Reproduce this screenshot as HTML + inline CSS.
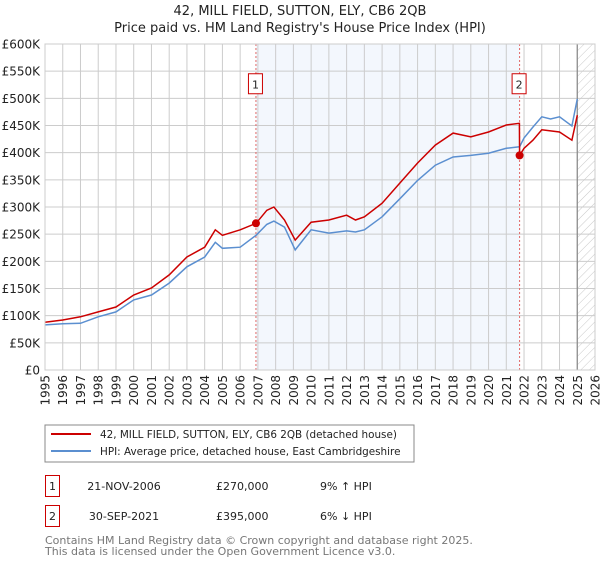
<!DOCTYPE html>
<html><head><meta charset="utf-8"><style>
body{margin:0;background:#fff;font-family:"Liberation Sans","DejaVu Sans",sans-serif;}
svg text{font-family:"DejaVu Sans","Liberation Sans",sans-serif;}
</style></head><body>
<svg id="chart" width="600" height="560" viewBox="0 0 600 560">
<defs><pattern id="hatch" width="6" height="6" patternUnits="userSpaceOnUse" patternTransform="rotate(45)"><line x1="0" y1="0" x2="0" y2="6" stroke="#bbb" stroke-width="0.8"/></pattern></defs>
<text x="300" y="15" text-anchor="middle" font-size="13" fill="#222">42, MILL FIELD, SUTTON, ELY, CB6 2QB</text>
<text x="300" y="32" text-anchor="middle" font-size="13" fill="#222">Price paid vs. HM Land Registry's House Price Index (HPI)</text>
<g id="plot"></g>
<rect x="45" y="425" width="369" height="37" fill="#fff" stroke="#888"/>
<line x1="51" y1="434" x2="91" y2="434" stroke="#cc0000" stroke-width="2"/>
<text x="100" y="438" font-size="10.4" fill="#222">42, MILL FIELD, SUTTON, ELY, CB6 2QB (detached house)</text>
<line x1="51" y1="451" x2="91" y2="451" stroke="#5b8fd0" stroke-width="2"/>
<text x="100" y="455" font-size="10.4" fill="#222">HPI: Average price, detached house, East Cambridgeshire</text>
<g font-size="11" fill="#222">
<rect x="45.5" y="475.5" width="14" height="21" fill="#fff" stroke="#cc0000"/>
<text x="52.5" y="490" text-anchor="middle">1</text>
<text x="124" y="490" text-anchor="middle">21-NOV-2006</text>
<text x="216" y="490">£270,000</text>
<text x="320" y="490">9% ↑ HPI</text>
<rect x="45.5" y="505.5" width="14" height="21" fill="#fff" stroke="#cc0000"/>
<text x="52.5" y="520" text-anchor="middle">2</text>
<text x="124" y="520" text-anchor="middle">30-SEP-2021</text>
<text x="216" y="520">£395,000</text>
<text x="320" y="520">6% ↓ HPI</text>
</g>
<text x="45" y="544" font-size="11" fill="#777">Contains HM Land Registry data © Crown copyright and database right 2025.</text>
<text x="45" y="555" font-size="11" fill="#777">This data is licensed under the Open Government Licence v3.0.</text>
</svg>
<script>
const dates=[1995,1996,1997,1998,1999,2000,2001,2002,2003,2004,2004.6,2005,2006,2006.9,2007.5,2007.9,2008.5,2009.1,2010,2011,2012,2012.5,2013,2014,2015,2016,2017,2018,2019,2020,2021,2021.74,2021.75,2022,2022.5,2023,2023.5,2024,2024.7,2025];
const hpiValues=[83,85,86,98,107,129,138,160,190,208,235,224,226,248,268,274,263,221,258,252,256,254,258,282,315,349,377,392,395,399,408,411,411,427,447,466,462,466,449,499];
const priceValues=[88,92,98,107,116,138,151,175,208,226,258,248,258,270,294,300,276,239,272,276,285,276,282,307,344,381,414,436,429,438,451,454,395,408,423,442,440,438,423,469];
const yTicks=[0,50,100,150,200,250,300,350,400,450,500,550,600];
const yLabels=["£0","£50K","£100K","£150K","£200K","£250K","£300K","£350K","£400K","£450K","£500K","£550K","£600K"];
const xYears=[1995,1996,1997,1998,1999,2000,2001,2002,2003,2004,2005,2006,2007,2008,2009,2010,2011,2012,2013,2014,2015,2016,2017,2018,2019,2020,2021,2022,2023,2024,2025,2026];
const sales=[{id:"1",t:2006.89,v:270},{id:"2",t:2021.75,v:395}];
const X0=45,X1=595,Y0=370,Y1=44;
const x=t=>X0+(t-1995)/(2026-1995)*(X1-X0);
const y=v=>Y0-v/600*(Y0-Y1);
const NS="http://www.w3.org/2000/svg";
const g=document.getElementById('plot');
function mk(tag,a){const e=document.createElementNS(NS,tag);for(const k in a)e.setAttribute(k,a[k]);g.appendChild(e);return e;}
let e;
e=mk('rect',{x:x(sales[0].t),y:Y1,width:x(sales[1].t)-x(sales[0].t),height:Y0-Y1,fill:'#eef3fc',opacity:0.7});


e=mk('rect',{x:x(2025),y:Y1,width:X1-x(2025),height:Y0-Y1,fill:'url(#hatch)'});


yTicks.forEach((v,i)=>{
 e=mk('line',{x1:X0,x2:X1,y1:y(v),y2:y(v),stroke:'#ccc','stroke-width':1});
 
 
 e=mk('text',{x:40,y:y(v)+4.5,'text-anchor':'end','font-size':12,fill:'#222'});e.textContent=yLabels[i];
 
 
});
xYears.forEach(t=>{
 e=mk('line',{x1:x(t),x2:x(t),y1:Y1,y2:Y0,stroke:'#ccc','stroke-width':1});
 
 
 e=mk('text',{transform:`translate(${x(t)+4.5},${Y0+5}) rotate(-90)`,'text-anchor':'end','font-size':12,fill:'#222'});e.textContent=t;
 
 
});
e=mk('line',{x1:x(2025),x2:x(2025),y1:Y1,y2:Y0,stroke:'#888','stroke-width':1.2});


sales.forEach(s=>{
 e=mk('line',{x1:x(s.t),x2:x(s.t),y1:Y1,y2:Y0,stroke:'#e06666','stroke-width':1,'stroke-dasharray':'2,2'});
 
 
});
const pts=a=>dates.map((d,i)=>x(d).toFixed(1)+','+y(a[i]).toFixed(1)).join(' ');
e=mk('polyline',{points:pts(hpiValues),fill:'none',stroke:'#5b8fd0','stroke-width':1.5});


e=mk('polyline',{points:pts(priceValues),fill:'none',stroke:'#cc0000','stroke-width':1.5});


sales.forEach(s=>{
 e=mk('circle',{cx:x(s.t),cy:y(s.v),r:4,fill:'#cc0000'});
 
 
 e=mk('rect',{x:x(s.t)-7.5,y:y(525)-11,width:14,height:20,fill:'#fff',stroke:'#cc0000'});
 
 
 e=mk('text',{x:x(s.t)-0.5,y:y(525)+3.5,'text-anchor':'middle','font-size':11,fill:'#222'});e.textContent=s.id;
 
 
});
e=mk('rect',{x:X0,y:Y1,width:X1-X0,height:Y0-Y1,fill:'none',stroke:'#ccc'});


</script>
</body></html>
